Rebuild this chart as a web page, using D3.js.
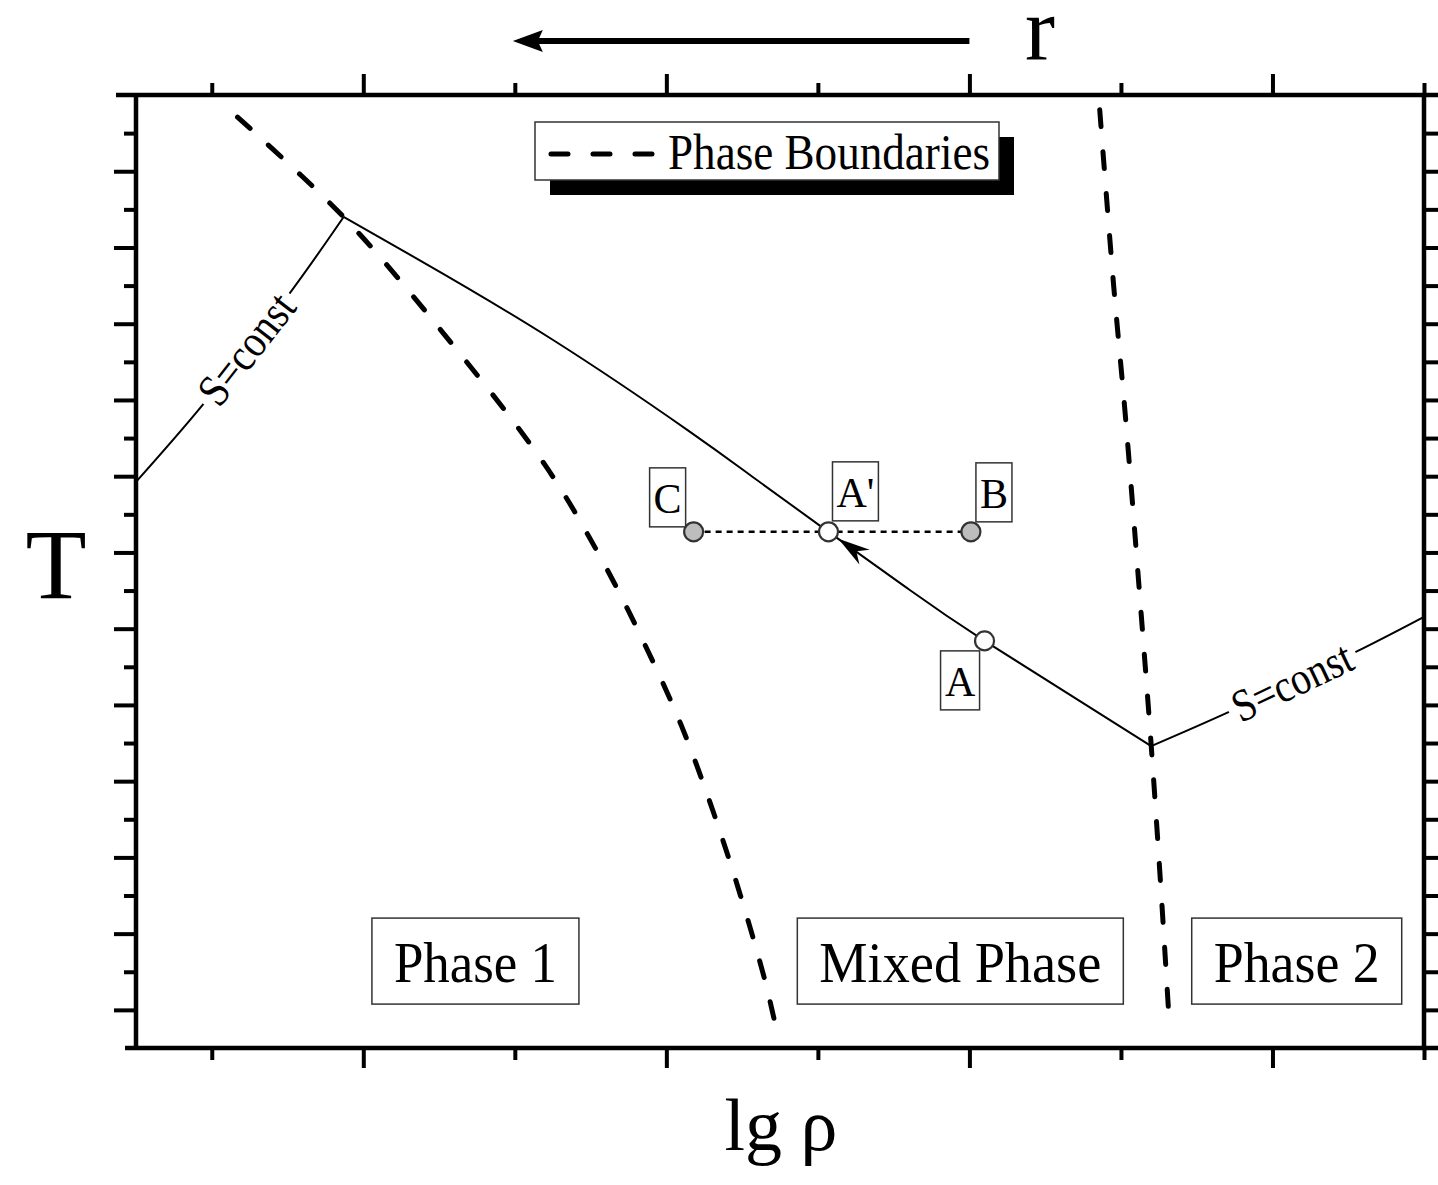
<!DOCTYPE html>
<html>
<head>
<meta charset="utf-8">
<script src="https://cdn.jsdelivr.net/npm/d3@7"></script>
<style>
    body { margin: 0; background: #fff; }
    text { font-family: "Liberation Serif", "Times New Roman", serif; fill: #000; }
</style>
</head>
<body>
<script>
// curves in data units (x = lg rho, y = T)
const isentropeLeft = [[-0.5, 14.85], [-0.06, 16.87], [0.52, 19.83], [0.87, 21.8]];
const mixedCurve = [[0.87, 21.8], [1.37, 20.67], [2.25, 18.58], [3.14, 16.21], [3.57, 14.98],
    [4.07, 13.54], [4.58, 12.09], [5.10, 10.68], [6.2, 7.92]];
const isentropeRight = [[6.2, 7.92], [6.71, 8.81], [7.55, 10.39], [8.0, 11.31]];
const boundary1 = [[0.17, 24.42], [0.87, 21.8], [1.51, 18.84], [2.2, 15.29], [2.56, 12.91],
    [2.85, 10.65], [3.1, 8.45], [3.31, 6.19], [3.49, 3.99], [3.65, 1.78], [3.72, 0.6]];
const boundary2 = [[5.86, 24.61], [5.95, 20.09], [6.03, 16.55], [6.12, 12.07], [6.2, 7.92],
    [6.26, 4.41], [6.32, 0.6]];

const pointNames = ["C", "A'", "B", "A"];
const pointX = [3.18, 4.07, 5.01, 5.10];
const pointY = [13.54, 13.54, 13.54, 10.68];

const phaseNames = ["Phase 1", "Mixed Phase", "Phase 2"];
const phaseX = [1.74, 4.94, 7.16];
const phaseY = 2.28;

const xMinor = [0, 2, 4, 6, 8];
const xMajor = [1, 3, 5, 7];
const yMinor = d3.range(2, 25, 2);
const yMajor = d3.range(1, 25, 2);

const width = 1438;
const height = 1185;

const svg = d3.select("body").append("svg")
    .attr("width", width)
    .attr("height", height);

const x = d3.scaleLinear().domain([-0.5, 8]).range([136, 1424]);
const y = d3.scaleLinear().domain([0, 25]).range([1048, 95]);

const line = d3.line().x(d => x(d[0])).y(d => y(d[1])).curve(d3.curveCatmullRom);
const smoothLine = d3.line().x(d => x(d[0])).y(d => y(d[1])).curve(d3.curveNatural);

// ticks
const addTicks = (axisFn, values, size, transform) => {
    const g = svg.append("g")
        .attr("transform", transform)
        .call(axisFn.tickValues(values).tickSize(size).tickSizeOuter(0).tickFormat(""));
    g.select(".domain").remove();
    g.selectAll(".tick line").attr("stroke", "#000").attr("stroke-width", 4);
};
addTicks(d3.axisTop(x), xMinor, 12, `translate(0,${y(25)})`);
addTicks(d3.axisTop(x), xMajor, 21, `translate(0,${y(25)})`);
addTicks(d3.axisBottom(x), xMinor, 12, `translate(0,${y(0)})`);
addTicks(d3.axisBottom(x), xMajor, 20, `translate(0,${y(0)})`);
addTicks(d3.axisLeft(y), yMinor, 12, `translate(${x(-0.5)},0)`);
addTicks(d3.axisLeft(y), yMajor, 22, `translate(${x(-0.5)},0)`);
addTicks(d3.axisRight(y), yMinor, 14, `translate(${x(8)},0)`);
addTicks(d3.axisRight(y), yMajor, 14, `translate(${x(8)},0)`);

// frame
const frame = svg.append("g").attr("stroke", "#000").attr("stroke-width", 4.5);
frame.append("line").attr("x1", x(-0.5) - 20).attr("x2", width).attr("y1", y(25)).attr("y2", y(25));
frame.append("line").attr("x1", x(-0.5) - 11).attr("x2", width).attr("y1", y(0)).attr("y2", y(0));
frame.append("line").attr("x1", x(-0.5)).attr("x2", x(-0.5)).attr("y1", y(25)).attr("y2", y(0));
frame.append("line").attr("x1", x(8)).attr("x2", x(8)).attr("y1", y(25)).attr("y2", y(0));

// phase boundaries
[boundary1, boundary2].forEach(b => {
    svg.append("path")
        .attr("d", line(b))
        .attr("fill", "none")
        .attr("stroke", "#000")
        .attr("stroke-width", 5)
        .attr("stroke-linecap", "round")
        .attr("stroke-dasharray", "17,25");
});

// isentropes and mixed phase curve
svg.append("path").attr("d", line(isentropeLeft))
    .attr("fill", "none").attr("stroke", "#000").attr("stroke-width", 2);
svg.append("path").attr("d", smoothLine(mixedCurve))
    .attr("fill", "none").attr("stroke", "#000").attr("stroke-width", 2);
svg.append("path").attr("d", line(isentropeRight))
    .attr("fill", "none").attr("stroke", "#000").attr("stroke-width", 2);

// S=const labels along the isentropes
const sLabel = (pts, i, cx, cy) => {
    const a = Math.atan2(y(pts[i + 1][1]) - y(pts[i][1]), x(pts[i + 1][0]) - x(pts[i][0])) * 180 / Math.PI;
    const g = svg.append("g").attr("transform", `translate(${x(cx)},${y(cy)}) rotate(${a})`);
    const bg = g.append("rect").attr("fill", "#fff");
    const t = g.append("text")
        .attr("text-anchor", "middle")
        .attr("dy", "0.33em")
        .attr("textLength", 128)
        .attr("lengthAdjust", "spacingAndGlyphs")
        .style("font-size", "46px")
        .text("S=const");
    bg.attr("x", -70).attr("y", -4).attr("width", 140).attr("height", 8);
};
sLabel(isentropeLeft, 1, 0.23, 18.34);
sLabel(isentropeRight, 1, 7.13, 9.6);

// dotted isotherm C - B
svg.append("line")
    .attr("x1", x(pointX[0])).attr("x2", x(pointX[2]))
    .attr("y1", y(pointY[0])).attr("y2", y(pointY[2]))
    .attr("stroke", "#000")
    .attr("stroke-width", 2.5)
    .attr("stroke-dasharray", "6,5");

// arrow on curve from A to A'
{
    const tx = x(pointX[1]), ty = y(pointY[1]);
    const dx = x(pointX[3]) - tx, dy = y(pointY[3]) - ty;
    const len = Math.hypot(dx, dy);
    const ux = dx / len, uy = dy / len;
    const px = -uy, py = ux;
    const tip = [tx + 12 * ux, ty + 12 * uy];
    const back = [tip[0] + 32 * ux, tip[1] + 32 * uy];
    const notch = [tip[0] + 22 * ux, tip[1] + 22 * uy];
    svg.append("path")
        .attr("d", `M${tip}L${back[0] + 9 * px},${back[1] + 9 * py}L${notch}L${back[0] - 9 * px},${back[1] - 9 * py}Z`)
        .attr("fill", "#000");
}

// points with boxed labels
const boxPlace = [
    (b, px, py) => [px - 8 - b.w, py - 5 - b.h],
    (b, px, py) => [px + 4, py - 11 - b.h],
    (b, px, py) => [px + 5, py - 10 - b.h],
    (b, px, py) => [px - 5 - b.w, py + 10]
];
pointNames.forEach((name, i) => {
    const px = x(pointX[i]), py = y(pointY[i]);
    const g = svg.append("g");
    const rect = g.append("rect").attr("fill", "#fff").attr("stroke", "#333").attr("stroke-width", 1.5);
    const t = g.append("text").style("font-size", "42px").attr("text-anchor", "middle").text(name);
    const bb = t.node().getBBox();
    const b = { w: bb.width + 8, h: 59 };
    const [bx, by] = boxPlace[i](b, px, py);
    rect.attr("x", bx).attr("y", by).attr("width", b.w).attr("height", b.h);
    t.attr("x", bx + b.w / 2).attr("y", by + 45);
    svg.append("circle")
        .attr("cx", px).attr("cy", py).attr("r", 9.5)
        .attr("fill", (name === "C" || name === "B") ? "#bdbdbd" : "#fff")
        .attr("stroke", "#333")
        .attr("stroke-width", 2.2);
});

// phase region labels
const phaseTextLen = [163, 282, 166];
phaseNames.forEach((name, i) => {
    const cx = x(phaseX[i]), cy = y(phaseY);
    const tl = phaseTextLen[i];
    svg.append("rect")
        .attr("x", cx - tl / 2 - 22).attr("y", cy - 43)
        .attr("width", tl + 44).attr("height", 86)
        .attr("fill", "#fff").attr("stroke", "#333").attr("stroke-width", 1.5);
    svg.append("text")
        .attr("x", cx).attr("y", cy + 21)
        .attr("text-anchor", "middle")
        .attr("textLength", tl)
        .attr("lengthAdjust", "spacingAndGlyphs")
        .style("font-size", "56px")
        .text(name);
});

// legend
{
    const lx = 535, ly = 122, lw = 464, lh = 58;
    svg.append("rect").attr("x", lx + 15).attr("y", ly + 15).attr("width", lw).attr("height", lh).attr("fill", "#000");
    svg.append("rect").attr("x", lx).attr("y", ly).attr("width", lw).attr("height", lh)
        .attr("fill", "#fff").attr("stroke", "#333").attr("stroke-width", 1.5);
    svg.append("line")
        .attr("x1", lx + 16).attr("x2", lx + 124).attr("y1", ly + 32).attr("y2", ly + 32)
        .attr("stroke", "#000").attr("stroke-width", 5)
        .attr("stroke-linecap", "round").attr("stroke-dasharray", "17,25");
    svg.append("text")
        .attr("x", lx + 133).attr("y", ly + 47)
        .attr("textLength", 322)
        .attr("lengthAdjust", "spacingAndGlyphs")
        .style("font-size", "50px")
        .text("Phase Boundaries");
}

// top r arrow
{
    const ay = 41;
    svg.append("line")
        .attr("x1", x(5)).attr("x2", x(2) + 20).attr("y1", ay).attr("y2", ay)
        .attr("stroke", "#000").attr("stroke-width", 6);
    svg.append("path")
        .attr("d", `M${x(2) - 2},${ay}L${x(2) + 28},${ay - 11}L${x(2) + 23},${ay}L${x(2) + 28},${ay + 11}Z`)
        .attr("fill", "#000");
    svg.append("text")
        .attr("x", 1040).attr("y", 60)
        .attr("text-anchor", "middle")
        .style("font-size", "90px")
        .text("r");
}

// axis titles
svg.append("text")
    .attr("x", 56).attr("y", 598)
    .attr("text-anchor", "middle")
    .style("font-size", "100px")
    .text("T");
svg.append("text")
    .attr("x", 781).attr("y", 1150)
    .attr("text-anchor", "middle")
    .style("font-size", "74px")
    .text("lg ρ");
</script>
</body>
</html>
